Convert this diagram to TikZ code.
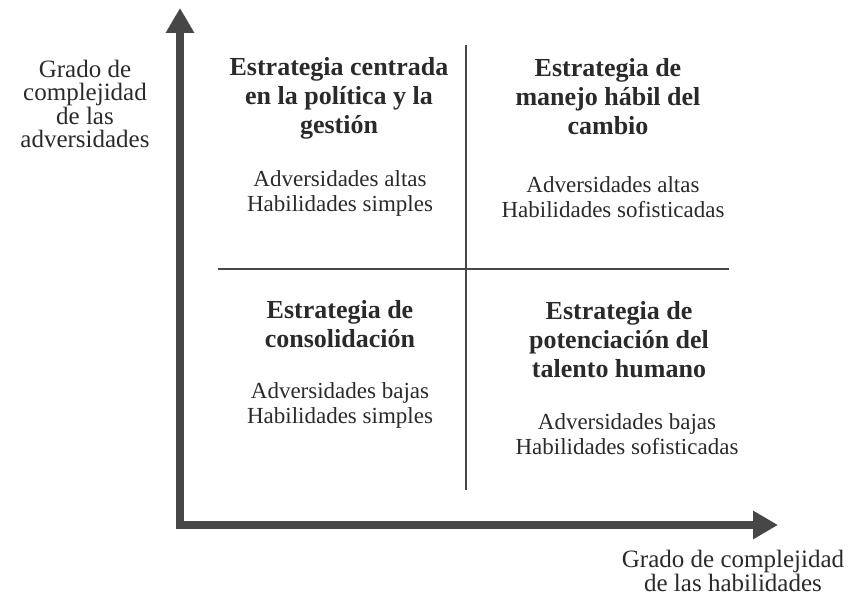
\documentclass[tikz,border=0pt]{standalone}
\usepackage{fontspec}
\setmainfont{Liberation Serif}
\usepackage{tikz}
\usetikzlibrary{arrows.meta,positioning}

\definecolor{inkgray}{HTML}{2A2A2A}
\definecolor{axisgray}{HTML}{474747}

\tikzset{
	axis/.style={line width=8pt, draw=axisgray, line join=miter,
		{Triangle[length=25pt,width=27pt]}-{Triangle[length=25pt,width=27pt]}},
	divider/.style={line width=2.8pt, draw=axisgray},
	title/.style={align=center, text=inkgray, inner sep=0pt,
		font=\fontsize{26}{29}\selectfont\bfseries},
	data/.style={align=center, text=inkgray, inner sep=0pt,
		font=\fontsize{23}{25}\selectfont},
	axislabel/.style={align=center, text=inkgray, inner sep=0pt,
		font=\fontsize{25}{23.5}\selectfont}
}

\begin{document}
\begin{tikzpicture}[x=1pt,y=-1pt]
		\useasboundingbox (0,0) rectangle (866,601);

		% axes
		\coordinate (ytip) at (180,8);
		\coordinate (origin) at (180,525);
		\coordinate (xtip) at (778,525);
		\draw[axis] (ytip) -- (origin) -- (xtip);

		% quadrant dividers
		\coordinate (vtop) at (466,45);
		\coordinate (vbot) at (466,490);
		\coordinate (hleft) at (218,269);
		\coordinate (hright) at (729,269);
		\draw[divider] (vtop) -- (vbot);
		\draw[divider] (hleft) -- (hright);

		% axis labels
		\node[axislabel] (ylabel) at (85,104)
			{Grado de\\complejidad\\de las\\adversidades};
		\node[axislabel] (xlabel) at (733,571)
			{Grado de complejidad\\de las habilidades};

		% top left
		\node[title] (tl-title) at (339,98)
			{Estrategia centrada\\en la política y la\\gestión};
		\node[data] (tl-data) at (340,193)
			{Adversidades altas\\Habilidades simples};

		% top right
		\node[title] (tr-title) at (608,97)
			{Estrategia de\\manejo hábil del\\cambio};
		\node[data] (tr-data) at (613,197)
			{Adversidades altas\\Habilidades sofisticadas};

		% bottom left
		\node[title] (bl-title) at (340,324)
			{Estrategia de\\consolidación};
		\node[data] (bl-data) at (340,405)
			{Adversidades bajas\\Habilidades simples};

		% bottom right
		\node[title] (br-title) at (619,340)
			{Estrategia de\\potenciación del\\talento humano};
		\node[data] (br-data) at (627,434)
			{Adversidades bajas\\Habilidades sofisticadas};

	\end{tikzpicture}
\end{document}
